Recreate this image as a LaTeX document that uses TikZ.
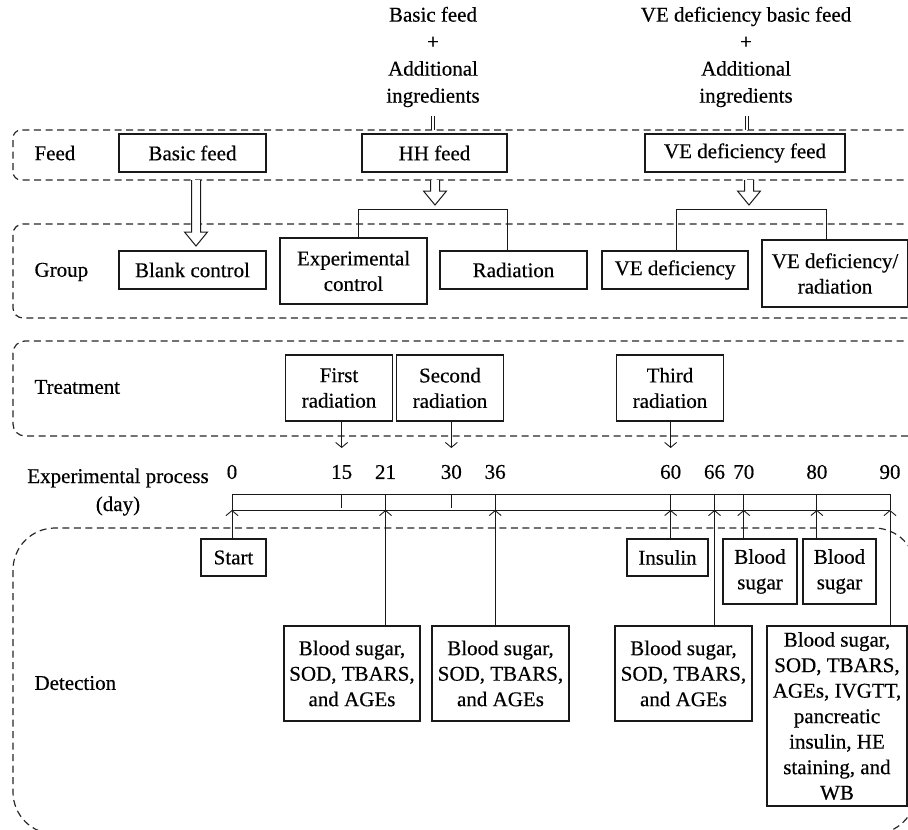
\documentclass[tikz,border=0pt]{standalone}
\usepackage{fontspec}
\setmainfont{Liberation Serif}[FakeBold=0.4]
\usetikzlibrary{arrows.meta}
\newcommand{\dgmfont}{\fontsize{21}{25.5}\selectfont}
\newcommand{\hollowarr}[3]{\draw[hol] (#1-4.5,#2) -- (#1-4.5,#3-14) -- (#1-11.5,#3-14) -- (#1,#3) -- (#1+11.5,#3-14) -- (#1+4.5,#3-14) -- (#1+4.5,#2);}
\begin{document}
\begin{tikzpicture}[x=1pt,y=-1pt,
  every node/.style={font=\dgmfont},
  box/.style={draw=black!90, line width=1.1pt, inner sep=0pt, align=center},
  grp/.style={draw=black!85, line width=1.2pt, dash pattern=on 7pt off 4.5pt, rounded corners=#1},
  ln/.style={draw=black!90, line width=0.9pt},
  arr/.style={ln, -{Straight Barb[length=5pt,width=12pt,line width=0.9pt]}},
  hol/.style={draw=black!90, line width=1pt, fill=white},
  dbl/.style={draw=black!90, double=white, double distance=2.2pt, line width=0.8pt}]
\useasboundingbox (0,0) rectangle (908,830);
\clip (0,0) rectangle (908,830);

% dashed group frames
\draw[grp=8] (915,130) -- (13,130) -- (13,180) -- (915,180);
\draw[grp=10] (915,224) -- (13,224) -- (13,318) -- (915,318);
\draw[grp=12] (915,341) -- (13,341) -- (13,436) -- (915,436);
\draw[grp=42] (13,528) rectangle (916,834);

% row labels
\node[anchor=west] (lfeed) at (31,153) {Feed};
\node[anchor=west] (lgroup) at (31,272) {Group};
\node[anchor=west] (ltreat) at (31,387) {Treatment};
\node[align=center, inner sep=0pt, font={\fontsize{21}{28}\selectfont}] (lproc) at (118,492) {Experimental process\\(day)};
\node[anchor=west] (ldet) at (31,683) {Detection};

% top sources
\node[align=center, inner sep=0pt, font={\fontsize{21}{27}\selectfont}] (srcA) at (433,57) {Basic feed\\+\\Additional\\ingredients};
\node[align=center, inner sep=0pt, font={\fontsize{21}{27}\selectfont}] (srcB) at (746,57) {VE deficiency basic feed\\+\\Additional\\ingredients};
\coordinate (ddA) at (433,130);
\coordinate (ddB) at (747,130);
\draw[dbl] ([yshift=-9pt]srcA.south -| ddA) -- (ddA);
\draw[dbl] ([yshift=-9pt]srcB.south -| ddB) -- (ddB);

% feed boxes
\node[box, minimum width=147pt, minimum height=38pt] (fbasic) at (192.5,153) {Basic feed};
\node[box, minimum width=145pt, minimum height=38pt] (fhh) at (434.5,153) {HH feed};
\node[box, minimum width=200pt, minimum height=38pt] (fve) at (745,153) {VE deficiency feed};

% hollow arrows
\hollowarr{196}{180}{246}
\hollowarr{435}{180}{205}
\hollowarr{749}{180}{205}

% group boxes
\node[box, minimum width=147pt, minimum height=38pt] (gblank) at (192.5,270) {Blank control};
\node[box, minimum width=147pt, minimum height=66pt] (gexp) at (353.5,271) {Experimental\\control};
\node[box, minimum width=147pt, minimum height=38pt] (grad) at (513.5,270) {Radiation};
\node[box, minimum width=146pt, minimum height=38pt] (gve) at (675,270) {VE deficiency};
\node[box, minimum width=146pt, minimum height=67pt] (gverad) at (835,273.5) {VE deficiency/\\radiation};

% brackets
\coordinate (bhL) at (358,209);
\coordinate (bhR) at (507,209);
\coordinate (bvL) at (676,209);
\coordinate (bvR) at (826,209);
\draw[ln] (gexp.north -| bhL) -- (bhL) -- (bhR) -- (grad.north -| bhR);
\draw[ln] (gve.north -| bvL) -- (bvL) -- (bvR) -- (gverad.north -| bvR);

% treatment boxes
\node[box, minimum width=107pt, minimum height=66pt] (tfirst) at (339,388) {First\\radiation};
\node[box, minimum width=107pt, minimum height=66pt] (tsecond) at (450,388) {Second\\radiation};
\node[box, minimum width=107pt, minimum height=66pt] (tthird) at (670,388) {Third\\radiation};

% timeline
\foreach \d in {0,15,21,30,36,60,66,70,80,90} {
  \coordinate (U\d) at ({232+7.311*\d},494);
  \coordinate (L\d) at ({232+7.311*\d},510);
  \coordinate (A\d) at ({232+7.311*\d},448);
  \node (n\d) at ({232+7.311*\d},472) {\d};
}
\draw[ln] (L0) -- (U0) -- (U90) -- (L90);
\draw[ln] (L0) -- (L90);
\draw[ln] (U15) -- ++(0,14);
\draw[ln] (U30) -- ++(0,14);
\foreach \d in {21,36,60,66,70,80} { \draw[ln] (U\d) -- (L\d); }

\draw[arr] (tfirst.south -| A15) -- (A15);
\draw[arr] (tsecond.south -| A30) -- (A30);
\draw[arr] (tthird.south -| A60) -- (A60);

% detection boxes
\node[box, minimum width=65pt, minimum height=37pt] (dstart) at (233.5,557.5) {Start};
\node[box, minimum width=81pt, minimum height=37pt] (dins) at (667.5,557.5) {Insulin};
\node[box, minimum width=74pt, minimum height=65pt] (dbs70) at (760,571.5) {Blood\\sugar};
\node[box, minimum width=73pt, minimum height=65pt] (dbs80) at (839.5,571.5) {Blood\\sugar};
\node[box, minimum width=136pt, minimum height=95pt] (dA) at (352,673.5) {Blood sugar,\\SOD, TBARS,\\and AGEs};
\node[box, minimum width=137pt, minimum height=95pt] (dB) at (500.5,673.5) {Blood sugar,\\SOD, TBARS,\\and AGEs};
\node[box, minimum width=137pt, minimum height=95pt] (dC) at (683.5,673.5) {Blood sugar,\\SOD, TBARS,\\and AGEs};
\node[box, minimum width=140pt, minimum height=180pt] (dD) at (837,716) {Blood sugar,\\SOD, TBARS,\\AGEs, IVGTT,\\pancreatic\\insulin, HE\\staining, and\\WB};

\draw[arr] (dstart.north -| L0) -- (L0);
\draw[arr] (dA.north -| L21) -- (L21);
\draw[arr] (dB.north -| L36) -- (L36);
\draw[arr] (dins.north -| L60) -- (L60);
\draw[arr] (dC.north -| L66) -- (L66);
\draw[arr] (dbs70.north -| L70) -- (L70);
\draw[arr] (dbs80.north -| L80) -- (L80);
\draw[arr] (dD.north -| L90) -- (L90);
\end{tikzpicture}
\end{document}
